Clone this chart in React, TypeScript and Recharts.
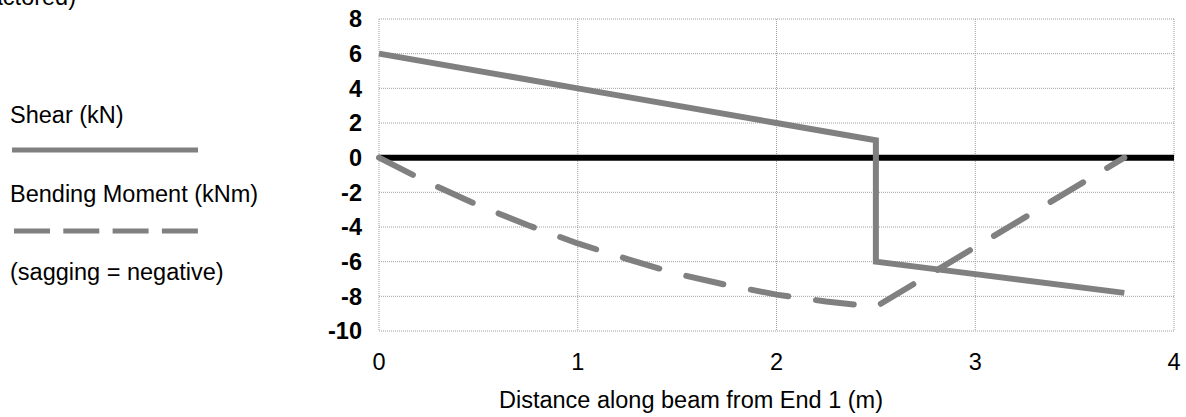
import React from 'react'
import { LineChart, Line, XAxis, YAxis, CartesianGrid, ReferenceLine } from 'recharts'

// distance along beam (m)
const shearX = [0, 1, 2, 2.5, 2.5, 3, 3.75]
const shearKN = [6, 4, 2, 1, -6, -6.72, -7.8]

const momentX = [0, 0.25, 0.5, 0.75, 1, 1.25, 1.5, 1.75, 2, 2.25, 2.5, 3.75]
const momentKNm = [0, -1.45, -2.75, -3.9, -4.95, -5.85, -6.7, -7.35, -7.9, -8.3, -8.6, 0]

const xTicks = [0, 1, 2, 3, 4]
const yTicks = [-10, -8, -6, -4, -2, 0, 2, 4, 6, 8]

const shearData = shearX.map((x, i) => ({ x, v: shearKN[i] }))
const momentData = momentX.map((x, i) => ({ x, v: momentKNm[i] }))

const FONT = '"Liberation Sans", Arial, sans-serif'
const GREY = '#808080'

export default function App() {
  return (
    <div style={{ position: 'absolute', left: 0, top: 0, width: 1186, height: 417, background: '#fff', fontFamily: FONT }}>
      <LineChart width={1186} height={417} margin={{ top: 19, right: 12, left: 0, bottom: 0 }}>
        <CartesianGrid stroke="#a0a0a0" strokeDasharray="1 1" />
        <XAxis
          dataKey="x"
          type="number"
          domain={[0, 4]}
          ticks={xTicks}
          height={86}
          axisLine={false}
          tickLine={false}
          tickSize={8}
          tickMargin={14}
          tick={{ fill: '#000', fontSize: 23.5, fontFamily: FONT }}
          allowDuplicatedCategory={false}
        />
        <YAxis
          type="number"
          domain={[-10, 8]}
          ticks={yTicks}
          width={379}
          axisLine={false}
          tickLine={false}
          tickSize={8}
          tickMargin={9}
          tick={{ fill: '#000', fontSize: 23.5, fontWeight: 'bold', fontFamily: FONT }}
        />
        <ReferenceLine y={0} stroke="#000" strokeWidth={6} />
        <Line data={shearData} dataKey="v" type="linear" stroke={GREY} strokeWidth={6} dot={false} isAnimationActive={false} />
        <Line
          data={momentData}
          dataKey="v"
          type="linear"
          stroke={GREY}
          strokeWidth={6}
          strokeDasharray="38 28"
          strokeLinecap="round"
          dot={false}
          isAnimationActive={false}
        />
      </LineChart>
      <svg width={1186} height={417} style={{ position: 'absolute', left: 0, top: 0, pointerEvents: 'none' }}>
        <g fontFamily={FONT} fontSize={23.5} fill="#000">
          <text x={76} y={5} textAnchor="end">actored)</text>
          <text x={10} y={123}>Shear (kN)</text>
          <text x={10} y={202}>Bending Moment (kNm)</text>
          <text x={10} y={280}>(sagging = negative)</text>
          <text x={691} y={408} textAnchor="middle">Distance along beam from End 1 (m)</text>
        </g>
        <line x1={12} x2={198} y1={150} y2={150} stroke={GREY} strokeWidth={5} />
        <line x1={14} x2={199} y1={231} y2={231} stroke={GREY} strokeWidth={5} strokeDasharray="36 13.3" />
      </svg>
    </div>
  )
}
